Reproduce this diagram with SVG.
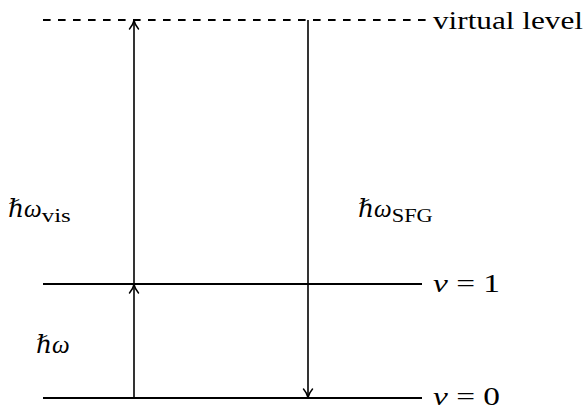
<svg xmlns="http://www.w3.org/2000/svg" width="584" height="410" viewBox="0 0 584 410">
<defs>
<marker id="arr" viewBox="0 0 12 12" refX="10" refY="6" markerWidth="12" markerHeight="12" markerUnits="userSpaceOnUse" orient="auto">
<path d="M2,1.5 Q6,5 10.5,6 Q6,7 2,10.5" fill="none" stroke="#000" stroke-width="1.5" stroke-linecap="round"/>
</marker>
</defs>
<style>
.lvl{stroke:#000;stroke-width:1.8;fill:none}
.dash{stroke:#000;stroke-width:1.8;fill:none;stroke-dasharray:7.6 7.4}
.ar{stroke:#000;stroke-width:1.6;fill:none;marker-end:url(#arr)}
text{font-family:"Liberation Serif","DejaVu Serif",serif;font-size:25px;fill:#000}
.it{font-style:italic}
.sub{font-size:19px}
</style>
<g id="virtual-level">
<line class="dash" x1="43" y1="20" x2="426" y2="20"/>
<text x="433" y="29" textLength="150" lengthAdjust="spacingAndGlyphs">virtual level</text>
</g>
<g id="level-1">
<line class="lvl" x1="43" y1="284" x2="422" y2="284"/>
<text x="433" y="292" textLength="67" lengthAdjust="spacingAndGlyphs"><tspan class="it">ν</tspan> = 1</text>
</g>
<g id="level-0">
<line class="lvl" x1="43" y1="398" x2="422" y2="398"/>
<text x="433" y="405" textLength="67" lengthAdjust="spacingAndGlyphs"><tspan class="it">ν</tspan> = 0</text>
</g>
<g id="connectors">
<line class="ar" x1="134" y1="398" x2="134" y2="285"/>
<line class="ar" x1="134" y1="284" x2="134" y2="21"/>
<line class="ar" x1="308" y1="20" x2="308" y2="397"/>
</g>
<g id="label-vis">
<text x="8" y="217"><tspan class="it">ℏω</tspan><tspan class="sub" dy="5" textLength="29" lengthAdjust="spacingAndGlyphs">vis</tspan></text>
</g>
<g id="label-sfg">
<text x="358" y="217"><tspan class="it">ℏω</tspan><tspan class="sub" dy="5" textLength="41" lengthAdjust="spacingAndGlyphs">SFG</tspan></text>
</g>
<g id="label-ir">
<text x="36" y="353" class="it">ℏω</text>
</g>
</svg>
